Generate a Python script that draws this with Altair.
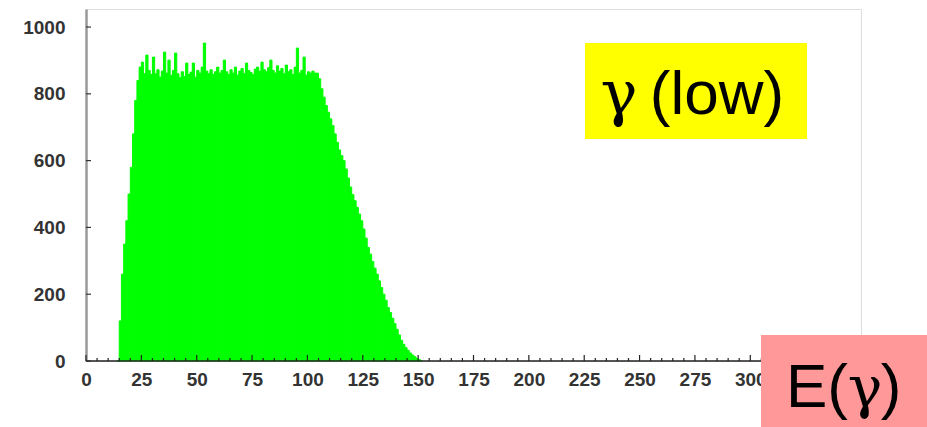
import altair as alt
import pandas as pd

# ---- data ----
first_bin = 14          # left edge of first 1-unit bin
counts = [
    0, 120, 260, 350, 420, 500, 580, 680, 780, 840,          # 14-23
    880, 895, 860, 916, 870, 858, 910, 860, 872, 850,        # 24-33
    868, 925, 862, 901, 855, 870, 922, 860, 848, 866,        # 34-43
    852, 892, 858, 865, 892, 850, 870, 862, 880, 952,        # 44-53
    868, 860, 872, 858, 866, 880, 862, 870, 901, 866,        # 54-63
    858, 872, 862, 880, 856, 868, 876, 860, 892, 870,        # 64-73
    864, 858, 874, 880, 868, 895, 872, 866, 878, 901,        # 74-83
    870, 862, 884, 868, 876, 860, 886, 866, 872, 858,        # 84-93
    880, 937, 862, 870, 910, 856, 866, 862, 868, 862,        # 94-103
    862, 845, 815, 790, 765, 745, 725, 705, 680, 655,        # 104-113
    632, 615, 600, 575, 548, 521, 498, 480, 460, 440,        # 114-123
    420, 395, 368, 340, 320, 298, 278, 260, 240, 220,        # 124-133
    200, 182, 160, 145, 128, 112, 95, 78, 62, 50,            # 134-143
    40, 32, 24, 18, 13, 8, 4, 0,                             # 144-151
]
bin_lo = [first_bin + i for i in range(len(counts))]
bin_hi = [b + 1 for b in bin_lo]

x_labels = [0, 25, 50, 75, 100, 125, 150, 175, 200, 225, 250, 275, 300]
x_major = [0, 25, 50, 75, 100, 125, 150, 175, 200, 225, 250, 275, 300, 325, 350]
x_minor = list(range(0, 351, 5))
y_labels = [0, 200, 400, 600, 800, 1000]

hist = pd.DataFrame({"lo": bin_lo, "hi": bin_hi, "n": counts})
xt = pd.DataFrame({"lo": x_minor, "major": [t in x_major for t in x_minor]})
yt = pd.DataFrame({"n": y_labels})
one = pd.DataFrame({"a": [0]})

W, H = 775, 352
FONT = "Liberation Sans"
SERIF = "DejaVu Serif"

xs = alt.Scale(domain=[0, 350], nice=False, zero=False)
ys = alt.Scale(domain=[0, 1054], nice=False)

x_axis = alt.Axis(values=x_labels, ticks=False, domain=False, grid=False,
                  labelFont=FONT, labelFontSize=19, labelColor="#333", labelFontWeight="bold",
                  labelPadding=9, labelFlush=False, labelOverlap=False, title=None)
y_axis = alt.Axis(values=y_labels, ticks=False, domain=True, domainColor="#999",
                  domainWidth=2.5, grid=False, format="d",
                  labelFont=FONT, labelFontSize=19, labelColor="#333", labelFontWeight="bold",
                  labelPadding=21, title=None)

X = alt.X("lo:Q", scale=xs, axis=x_axis, title=None)
Y = alt.Y("n:Q", scale=ys, axis=y_axis, title=None)

bars = alt.Chart(hist).mark_bar(color="#00ff00", stroke="#00ff00", strokeWidth=1).encode(
    x=X, x2="hi:Q", y=Y, y2=alt.datum(0),
)

xticks_major = alt.Chart(xt).transform_filter("datum.major").mark_rule(color="#222", strokeWidth=1.2).encode(
    x=X, y=alt.value(H), y2=alt.value(H - 6),
)
xticks_minor = alt.Chart(xt).transform_filter("!datum.major").mark_rule(color="#222", strokeWidth=1.2).encode(
    x=X, y=alt.value(H), y2=alt.value(H - 3),
)
baseline = alt.Chart(one).mark_rule(color="#222", strokeWidth=1.5).encode(
    x=alt.value(0), x2=alt.value(W), y=alt.value(H),
)
yticks = alt.Chart(yt).mark_rule(color="#333", strokeWidth=1.2).encode(
    y=Y, x=alt.value(0), x2=alt.value(5),
)

ybox = alt.Chart(one).mark_rect(color="#ffff00").encode(
    x=alt.value(499), x2=alt.value(721), y=alt.value(34), y2=alt.value(130),
)
ygam = alt.Chart(one).mark_text(text="γ", font=SERIF, fontSize=62, color="#000",
                                 align="center", baseline="alphabetic").encode(
    x=alt.value(533), y=alt.value(105),
)
ytext = alt.Chart(one).mark_text(text="(low)", font=FONT, fontSize=62, color="#000",
                                  align="center", baseline="alphabetic").encode(
    x=alt.value(631), y=alt.value(105),
)
pbox = alt.Chart(one).mark_rect(color="#ff9999").encode(
    x=alt.value(675), x2=alt.value(841), y=alt.value(326), y2=alt.value(418),
)
ptext1 = alt.Chart(one).mark_text(text="E(", font=FONT, fontSize=62, color="#000",
                                   align="center", baseline="alphabetic").encode(
    x=alt.value(731), y=alt.value(398),
)
pgam = alt.Chart(one).mark_text(text="γ", font=SERIF, fontSize=58, color="#000",
                                 align="center", baseline="alphabetic").encode(
    x=alt.value(779), y=alt.value(398),
)
ptext2 = alt.Chart(one).mark_text(text=")", font=FONT, fontSize=62, color="#000",
                                   align="center", baseline="alphabetic").encode(
    x=alt.value(805), y=alt.value(398),
)

chart = alt.layer(
    bars, xticks_major, xticks_minor, baseline, yticks,
    ybox, ygam, ytext, pbox, ptext1, pgam, ptext2
).properties(
    width=W, height=H,
    autosize=alt.AutoSizeParams(type="none"),
    padding={"left": 86, "top": 9, "right": 66, "bottom": 66},
).configure_view(
    stroke="#888", strokeWidth=3,
).configure(background="white")

chart.save("out.html", embed_options={"renderer": "svg", "actions": False})
